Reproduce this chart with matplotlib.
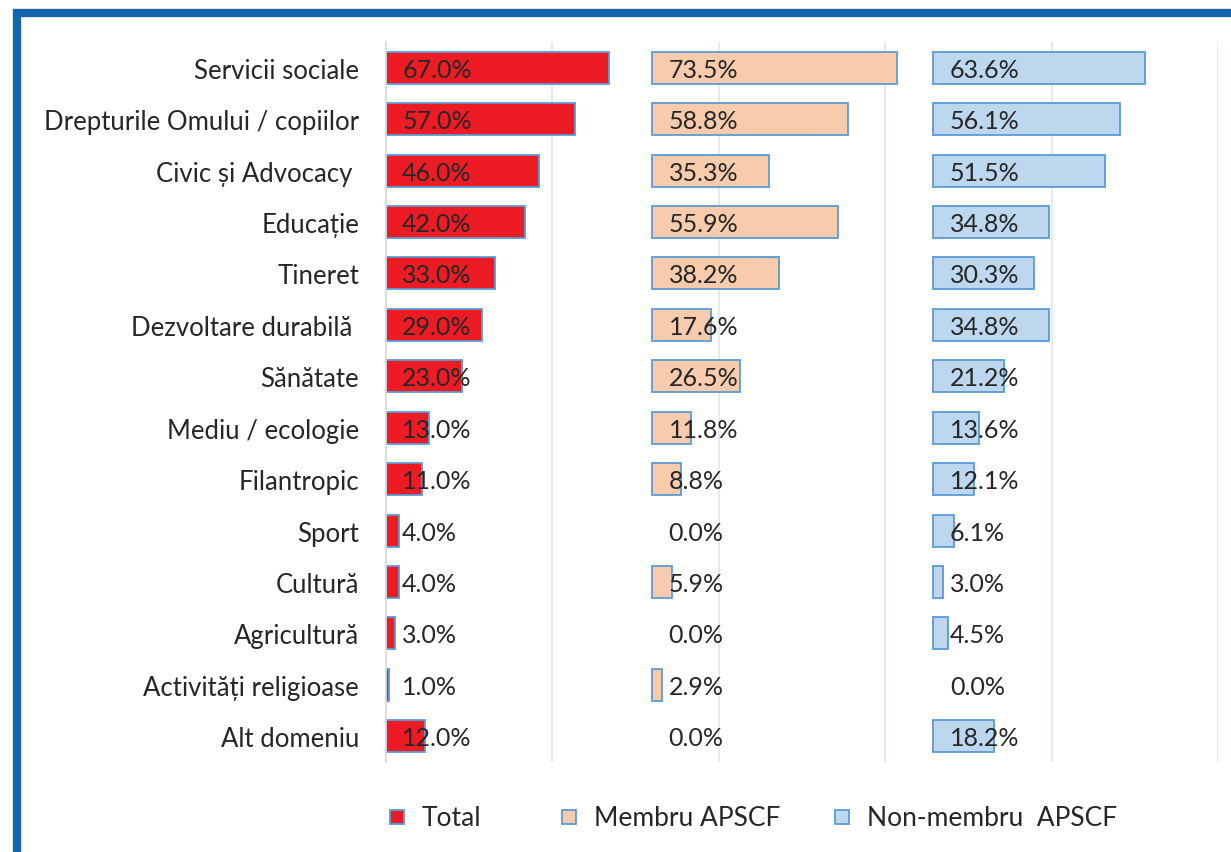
import matplotlib
matplotlib.use("Agg")
import matplotlib.pyplot as plt
from matplotlib.patches import Rectangle

categories = ["Servicii sociale", "Drepturile Omului / copiilor", "Civic și Advocacy ",
              "Educație", "Tineret", "Dezvoltare durabilă ", "Sănătate",
              "Mediu / ecologie", "Filantropic", "Sport", "Cultură", "Agricultură",
              "Activități religioase", "Alt domeniu"]
total = [67.0, 57.0, 46.0, 42.0, 33.0, 29.0, 23.0, 13.0, 11.0, 4.0, 4.0, 3.0, 1.0, 12.0]
membru = [73.5, 58.8, 35.3, 55.9, 38.2, 17.6, 26.5, 11.8, 8.8, 0.0, 5.9, 0.0, 2.9, 0.0]
non_membru = [63.6, 56.1, 51.5, 34.8, 30.3, 34.8, 21.2, 13.6, 12.1, 6.1, 3.0, 4.5, 0.0, 18.2]
series_names = ["Total", "Membru APSCF", "Non-membru  APSCF"]

FONT = "Lato"
TXT = "#262626"
EDGE = "#5B9BD5"
colors = ["#ED1C24", "#F8CBAD", "#BDD7EE"]
offsets = [0, 80, 164.5]

fig = plt.figure(figsize=(12.31, 8.53), dpi=100)
W, H = 1231, 853
ax = fig.add_axes([385.5 / W, 1 - 763 / H, (1218 - 385.5) / W, (763 - 43) / H])

n = len(categories)
ypos = list(range(n))
for vals, off, col in zip([total, membru, non_membru], offsets, colors):
    edges = [EDGE if v > 0 else "none" for v in vals]
    ax.barh(ypos, vals, left=off, height=0.62, color=col, edgecolor=edges, linewidth=1.3, zorder=3)
    for y, v in zip(ypos, vals):
        ax.text(off + 5, y + 0.03, f"{v:.1f}%", va="center", ha="left", fontsize=18,
                family=FONT, color=TXT, zorder=4)

ax.set_xlim(0, 250)
ax.set_ylim(n - 0.5, -0.5)
ax.set_xticks([0, 50, 100, 150, 200, 250])
ax.set_xticklabels([])
ax.tick_params(axis="x", length=0)
ax.tick_params(axis="y", length=0, pad=19)
ax.set_yticks(ypos)
ax.set_yticklabels(categories, fontsize=18.5, family=FONT, color=TXT)
ax.grid(axis="x", color="#DDE8F4", linewidth=1.2, zorder=0)
for s in ["top", "right", "bottom"]:
    ax.spines[s].set_visible(False)
ax.spines["left"].set_color("#D9D9D9")
ax.spines["left"].set_linewidth(1.2)
ax.spines["left"].set_zorder(5)

# legend: square swatch + label for each series
legend_x = [390, 562, 835]
legend_y = 818
sq = 14
for name, col, lx in zip(series_names, colors, legend_x):
    fig.patches.append(Rectangle((lx / W, 1 - (legend_y + sq / 2) / H), sq / W, sq / H,
                                 transform=fig.transFigure, facecolor=col,
                                 edgecolor=EDGE, linewidth=1.3))
    fig.text((lx + sq + 18) / W, 1 - (legend_y + 1) / H, name, ha="left", va="center",
             fontsize=19, family=FONT, color=TXT)

# outer blue frame (cut off at right and bottom)
fig.patches.append(Rectangle((17 / W, -0.05), 1.2, 1 - 13.5 / H + 0.05, transform=fig.transFigure,
                             fill=False, edgecolor="#1565AE", linewidth=6, zorder=10))

fig.savefig("out.png", dpi=100, facecolor="white")
